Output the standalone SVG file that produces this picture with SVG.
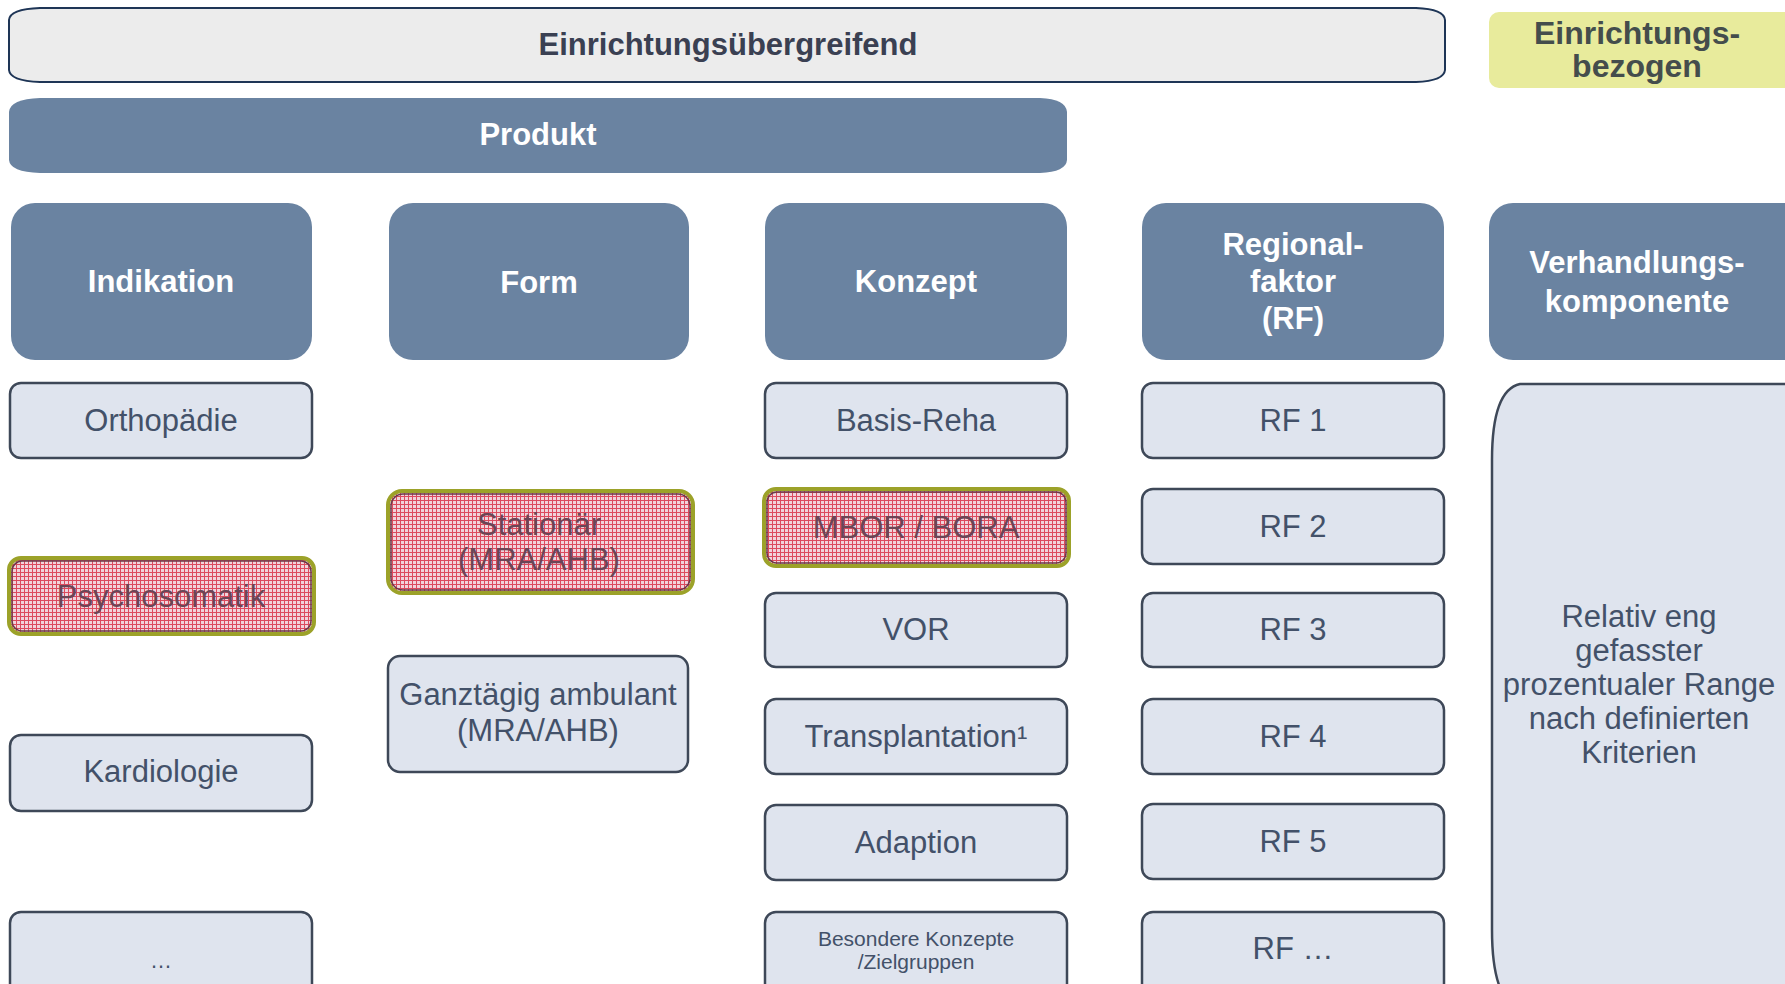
<svg xmlns="http://www.w3.org/2000/svg" width="1785" height="984" viewBox="0 0 1785 984">
<defs>
<pattern id="hatch" width="4" height="4" patternUnits="userSpaceOnUse">
<rect width="4" height="4" fill="#f1d3db"/>
<path d="M0 0.5H4M0.5 0V4" stroke="#dc4a5e" stroke-width="1"/>
</pattern>
<style>
text{font-family:"Liberation Sans",Arial,sans-serif;text-anchor:middle;dominant-baseline:central}
.hdr{fill:#6a83a1}
.hdrt{fill:#ffffff;font-weight:bold;font-size:31px}
.item{fill:#dfe4ee;stroke:#3e4858;stroke-width:2.5}
.itemt{fill:#435169;font-size:31px}
.small{font-size:21px}
.dots{font-size:22px}
.red{fill:url(#hatch);stroke:#9ca229;stroke-width:4}
.redin{fill:none;stroke:#6a3a4a;stroke-width:1.5}
.redt{fill:#6b4556;font-size:31px}
.yel{fill:#444d4c;font-weight:bold;font-size:32px}
</style>
</defs>
<rect width="1785" height="984" fill="#ffffff"/>

<g id="einrichtungsuebergreifend">
<path d="M40 8 H1416 Q1444 9 1445 20 V70 Q1444 81 1416 82 H40 Q10 81 9 70 V20 Q10 9 40 8 Z" fill="#ececec" stroke="#1e3556" stroke-width="2"/>
<text x="728" y="44" font-weight="bold" font-size="31" fill="#3a4052">Einrichtungsübergreifend</text>
</g>

<g id="einrichtungsbezogen">
<rect x="1489" y="12" width="310" height="76" rx="10" fill="#e8eb9c"/>
<text x="1637" y="33" class="yel">Einrichtungs-</text>
<text x="1637" y="66" class="yel">bezogen</text>
</g>

<g id="produkt">
<path d="M40 98 H1040 Q1066 99 1067 112 V160 Q1066 172 1040 173 H40 Q10 172 9 160 V112 Q10 99 40 98 Z" class="hdr"/>
<text x="538" y="134" class="hdrt">Produkt</text>
</g>

<g id="h-indikation">
<rect x="11" y="203" width="301" height="157" rx="24" class="hdr"/>
<text x="161" y="281" class="hdrt">Indikation</text>
</g>
<g id="h-form">
<rect x="389" y="203" width="300" height="157" rx="24" class="hdr"/>
<text x="539" y="282" class="hdrt">Form</text>
</g>
<g id="h-konzept">
<rect x="765" y="203" width="302" height="157" rx="24" class="hdr"/>
<text x="916" y="281" class="hdrt">Konzept</text>
</g>
<g id="h-regional">
<rect x="1142" y="203" width="302" height="157" rx="24" class="hdr"/>
<text x="1293" y="244" class="hdrt">Regional-</text>
<text x="1293" y="281" class="hdrt">faktor</text>
<text x="1293" y="318" class="hdrt">(RF)</text>
</g>
<g id="h-verhandlung">
<rect x="1489" y="203" width="320" height="157" rx="24" class="hdr"/>
<text x="1637" y="262" class="hdrt">Verhandlungs-</text>
<text x="1637" y="301" class="hdrt">komponente</text>
</g>

<g id="orthopaedie">
<rect x="10" y="383" width="302" height="75" rx="11" class="item"/>
<text x="161" y="420" class="itemt">Orthopädie</text>
</g>
<g id="psychosomatik">
<rect x="9" y="558" width="305" height="76" rx="12" class="red"/>
<rect x="12" y="561" width="299" height="70" rx="10" class="redin"/>
<text x="161" y="596" class="redt">Psychosomatik</text>
</g>
<g id="kardiologie">
<rect x="10" y="735" width="302" height="76" rx="11" class="item"/>
<text x="161" y="771" class="itemt">Kardiologie</text>
</g>
<g id="indikation-more">
<rect x="10" y="912" width="302" height="90" rx="11" class="item"/>
<text x="161" y="960" class="itemt dots">…</text>
</g>

<g id="stationaer">
<rect x="388" y="491" width="305" height="102" rx="14" class="red"/>
<rect x="391" y="494" width="299" height="96" rx="12" class="redin"/>
<text x="539" y="524" class="redt">Stationär</text>
<text x="539" y="559" class="redt">(MRA/AHB)</text>
</g>
<g id="ganztaegig">
<rect x="388" y="656" width="300" height="116" rx="12" class="item"/>
<text x="538" y="694" class="itemt">Ganztägig ambulant</text>
<text x="538" y="730" class="itemt">(MRA/AHB)</text>
</g>

<g id="basis-reha">
<rect x="765" y="383" width="302" height="75" rx="11" class="item"/>
<text x="916" y="420" class="itemt">Basis-Reha</text>
</g>
<g id="mbor-bora">
<rect x="764" y="489" width="305" height="77" rx="12" class="red"/>
<rect x="767" y="492" width="299" height="71" rx="10" class="redin"/>
<text x="916" y="527" class="redt">MBOR / BORA</text>
</g>
<g id="vor">
<rect x="765" y="593" width="302" height="74" rx="11" class="item"/>
<text x="916" y="629" class="itemt">VOR</text>
</g>
<g id="transplantation">
<rect x="765" y="699" width="302" height="75" rx="11" class="item"/>
<text x="916" y="736" class="itemt">Transplantation¹</text>
</g>
<g id="adaption">
<rect x="765" y="805" width="302" height="75" rx="11" class="item"/>
<text x="916" y="842" class="itemt">Adaption</text>
</g>
<g id="besondere">
<rect x="765" y="912" width="302" height="90" rx="11" class="item"/>
<text x="916" y="938" class="itemt small">Besondere Konzepte</text>
<text x="916" y="961" class="itemt small">/Zielgruppen</text>
</g>

<g id="rf1">
<rect x="1142" y="383" width="302" height="75" rx="11" class="item"/>
<text x="1293" y="420" class="itemt">RF 1</text>
</g>
<g id="rf2">
<rect x="1142" y="489" width="302" height="75" rx="11" class="item"/>
<text x="1293" y="526" class="itemt">RF 2</text>
</g>
<g id="rf3">
<rect x="1142" y="593" width="302" height="74" rx="11" class="item"/>
<text x="1293" y="629" class="itemt">RF 3</text>
</g>
<g id="rf4">
<rect x="1142" y="699" width="302" height="75" rx="11" class="item"/>
<text x="1293" y="736" class="itemt">RF 4</text>
</g>
<g id="rf5">
<rect x="1142" y="804" width="302" height="75" rx="11" class="item"/>
<text x="1293" y="841" class="itemt">RF 5</text>
</g>
<g id="rf-more">
<rect x="1142" y="912" width="302" height="90" rx="11" class="item"/>
<text x="1293" y="948" class="itemt">RF …</text>
</g>

<g id="verhandlung-range">
<path d="M1520 384 H1800 V1010 H1520 Q1492 1000 1492 930 V460 Q1492 390 1520 384 Z" class="item"/>
<text x="1639" y="616" class="itemt">Relativ eng</text>
<text x="1639" y="650" class="itemt">gefasster</text>
<text x="1639" y="684" class="itemt">prozentualer Range</text>
<text x="1639" y="718" class="itemt">nach definierten</text>
<text x="1639" y="752" class="itemt">Kriterien</text>
</g>

<g id="connectors"></g>
</svg>
